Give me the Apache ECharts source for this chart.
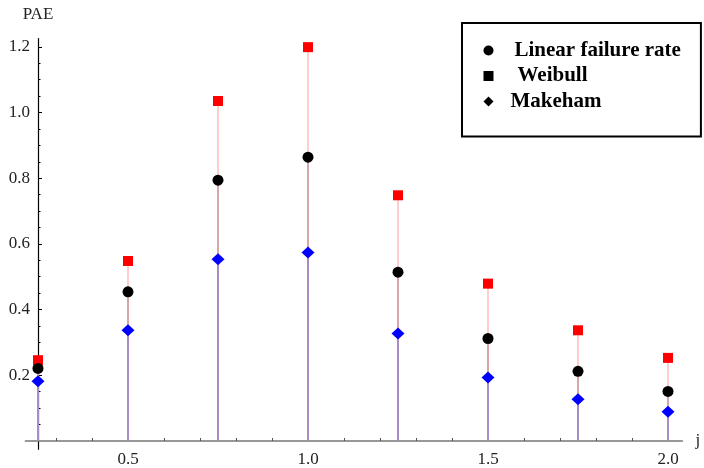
<!DOCTYPE html>
<html><head><meta charset="utf-8">
<script src="https://cdn.jsdelivr.net/npm/echarts@6/dist/echarts.min.js"></script>
<style>html,body{margin:0;padding:0;background:#fff}#c{width:704px;height:468px}</style>
</head><body><div id="c"></div>
<script>
const xs = [0.25, 0.5, 0.75, 1.0, 1.25, 1.5, 1.75, 2.0];
const linearFailure = [0.221, 0.454, 0.794, 0.864, 0.514, 0.312, 0.212, 0.151];
const weibull = [0.246, 0.548, 1.035, 1.199, 0.748, 0.479, 0.337, 0.253];
const makeham = [0.182, 0.337, 0.553, 0.574, 0.327, 0.193, 0.127, 0.089];
const xTickLabels = [0.5, 1.0, 1.5, 2.0];
const xTicks = [0.3, 0.4, 0.5, 0.6, 0.7, 0.8, 0.9, 1.0, 1.1, 1.2, 1.3, 1.4, 1.5, 1.6, 1.7, 1.8, 1.9, 2.0];
const yTickLabels = [0.2, 0.4, 0.6, 0.8, 1.0, 1.2];
const yMinorTicks = [0.05, 0.1, 0.15, 0.25, 0.3, 0.35, 0.45, 0.5, 0.55, 0.65, 0.7, 0.75, 0.85, 0.9, 0.95, 1.05, 1.1, 1.15];

const pair = arr => xs.map((x, i) => [x, arr[i]]);
const serif = 'Liberation Serif';
const chart = echarts.init(document.getElementById('c'), null, {renderer: 'canvas'});

const yBase = {
  type: 'value', min: -0.025, max: 1.225, position: 'left', offset: -12.6,
  splitLine: {show: false}
};

chart.setOption({
  animation: false,
  backgroundColor: '#fff',
  grid: {left: 25.4, right: 21.6, top: 38.6, bottom: 18.8, outerBoundsMode: 'none', containLabel: false},
  xAxis: {
    type: 'value', min: 0.215, max: 2.04,
    name: 'j', nameLocation: 'end', nameGap: 13,
    nameTextStyle: {fontFamily: serif, fontSize: 17, color: '#222', verticalAlign: 'middle'},
    axisLine: {onZero: true, lineStyle: {color: '#777', width: 1.5}},
    axisTick: {show: true, inside: true, length: 3, customValues: xTicks, lineStyle: {color: '#555', width: 1}},
    axisLabel: {customValues: xTickLabels, formatter: v => v.toFixed(1), margin: 2,
      fontFamily: serif, fontSize: 17, color: '#222'},
    splitLine: {show: false}
  },
  yAxis: [
    Object.assign({}, yBase, {
      name: 'PAE', nameLocation: 'end', nameGap: 16,
      nameTextStyle: {fontFamily: serif, fontSize: 17, color: '#222', align: 'center'},
      axisLine: {show: true, lineStyle: {color: '#000', width: 1.2}},
      axisTick: {show: true, inside: true, length: 4, customValues: yTickLabels, lineStyle: {color: '#000'}},
      axisLabel: {customValues: yTickLabels, formatter: v => v.toFixed(1), margin: 8,
        fontFamily: serif, fontSize: 17, color: '#222'}
    }),
    Object.assign({}, yBase, {
      axisLine: {show: false},
      axisTick: {show: true, inside: true, length: 2.5, customValues: yMinorTicks, lineStyle: {color: '#000'}},
      axisLabel: {show: false}
    })
  ],
  legend: {
    orient: 'vertical', left: 462, top: 23,
    padding: [17, 20, 24.5, 21.5],
    borderColor: '#000', borderWidth: 2, borderRadius: 0,
    itemWidth: 10, itemHeight: 10, itemGap: 4.5,
    textStyle: {fontFamily: serif, fontSize: 21, fontWeight: 'bold', color: '#000'},
    data: [
      {name: 'Linear failure rate', icon: 'circle', itemStyle: {color: '#000'},
        textStyle: {padding: [0, 0, 0, 16]}},
      {name: 'Weibull', icon: 'rect', itemStyle: {color: '#000'},
        textStyle: {padding: [0, 0, 0, 19]}},
      {name: 'Makeham', icon: 'diamond', itemStyle: {color: '#000'},
        textStyle: {padding: [0, 0, 0, 12]}}
    ]
  },
  series: [
    {type: 'bar', name: 'stemW', data: pair(weibull), barWidth: 2, barGap: '-100%',
      itemStyle: {color: '#ffcdcd'}, silent: true},
    {type: 'bar', name: 'stemL', data: pair(linearFailure), barWidth: 2, barGap: '-100%',
      itemStyle: {color: '#d6a6aa'}, silent: true},
    {type: 'bar', name: 'stemM', data: pair(makeham), barWidth: 2, barGap: '-100%',
      itemStyle: {color: '#a98bc6'}, silent: true},
    {type: 'scatter', name: 'Weibull', data: pair(weibull), symbol: 'rect', symbolSize: 10,
      itemStyle: {color: '#ff0000', opacity: 1}},
    {type: 'scatter', name: 'Linear failure rate', data: pair(linearFailure), symbol: 'circle', symbolSize: 11,
      itemStyle: {color: '#000', opacity: 1}},
    {type: 'scatter', name: 'Makeham', data: pair(makeham), symbol: 'diamond', symbolSize: [13, 12],
      itemStyle: {color: '#0000ff', opacity: 1}}
  ]
});
</script></body></html>
